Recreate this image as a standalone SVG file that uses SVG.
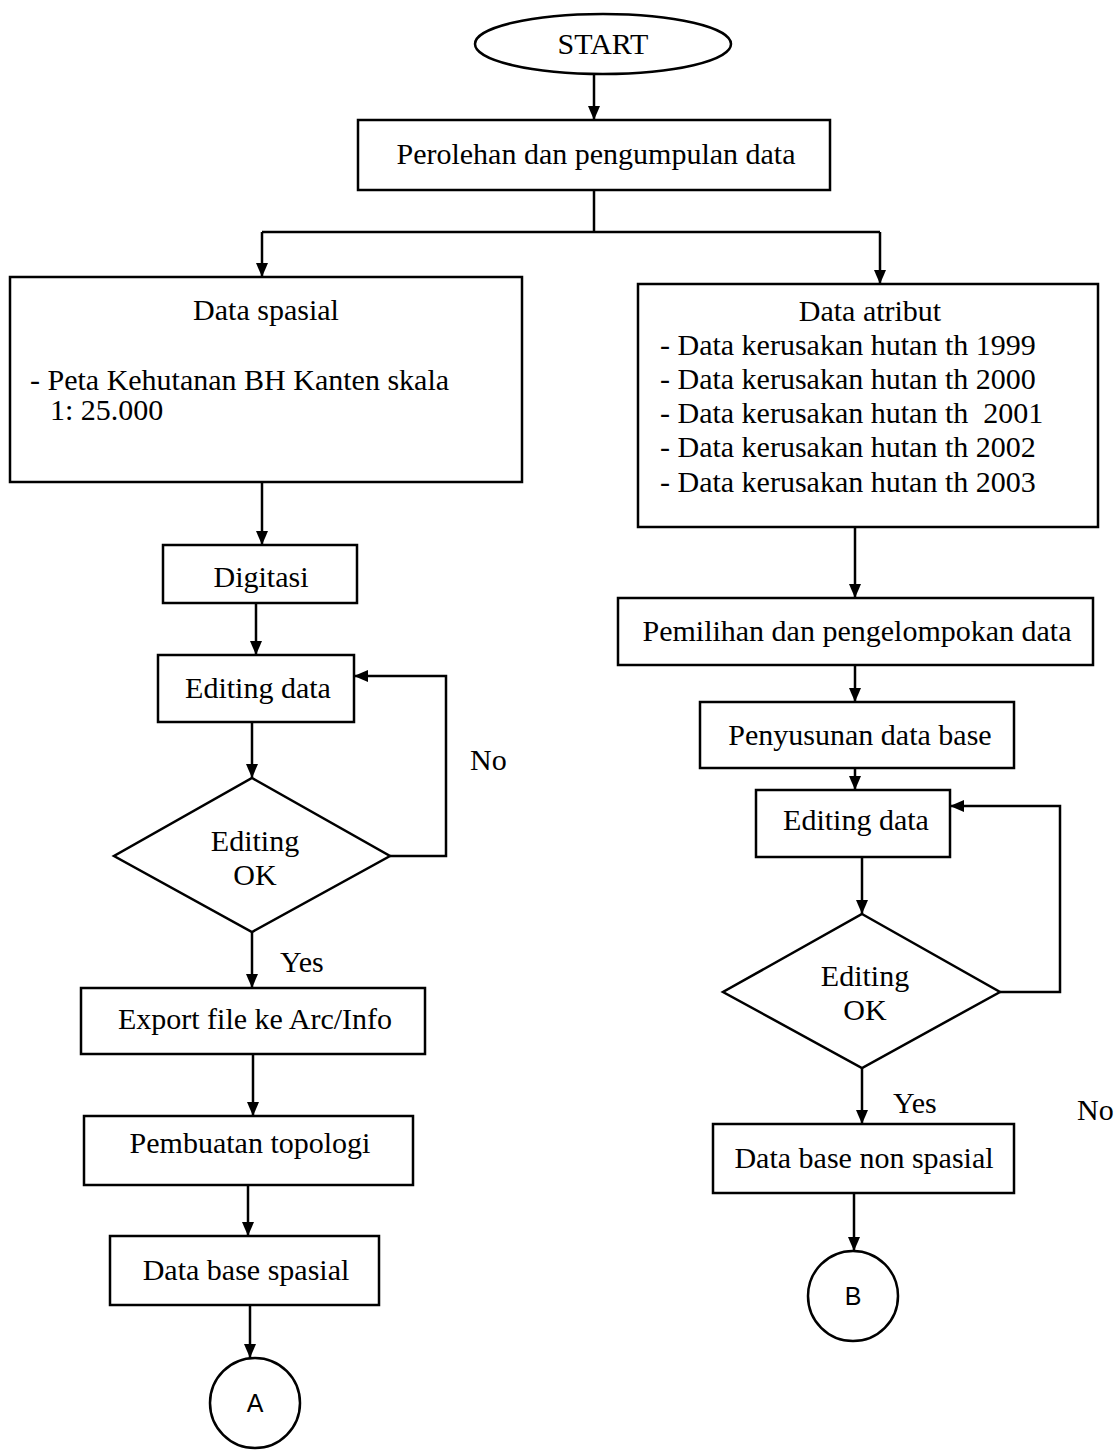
<svg xmlns="http://www.w3.org/2000/svg" width="1118" height="1452" viewBox="0 0 1118 1452">
<style>
.s{fill:#fff;stroke:#000;stroke-width:2.5}
.t{font-family:"Liberation Serif","Times New Roman",serif;font-size:30px;fill:#000}
.c{text-anchor:middle}
.a{font-family:"Liberation Sans",Arial,sans-serif;font-size:25px;fill:#000;text-anchor:middle}
.l{fill:none;stroke:#000;stroke-width:2.5}
</style>
<defs>
<marker id="ah" viewBox="0 0 14 12" refX="14" refY="6" markerWidth="14" markerHeight="12" markerUnits="userSpaceOnUse" orient="auto">
<path d="M0,0 L14,6 L0,12 z" fill="#000"/>
</marker>
</defs>
<rect width="1118" height="1452" fill="#fff"/>
<g id="connectors">
<path class="l" d="M594,74 V120" marker-end="url(#ah)"/>
<path class="l" d="M594,190 V232"/>
<path class="l" d="M262,232 H880"/>
<path class="l" d="M262,232 V277" marker-end="url(#ah)"/>
<path class="l" d="M880,232 V284" marker-end="url(#ah)"/>
<path class="l" d="M262,482 V545" marker-end="url(#ah)"/>
<path class="l" d="M256,603 V655" marker-end="url(#ah)"/>
<path class="l" d="M252,722 V778" marker-end="url(#ah)"/>
<path class="l" d="M390,856 H446 V676 H354" marker-end="url(#ah)"/>
<path class="l" d="M252,932 V988" marker-end="url(#ah)"/>
<path class="l" d="M253,1054 V1116" marker-end="url(#ah)"/>
<path class="l" d="M248,1185 V1236" marker-end="url(#ah)"/>
<path class="l" d="M250,1305 V1358" marker-end="url(#ah)"/>
<path class="l" d="M855,527 V598" marker-end="url(#ah)"/>
<path class="l" d="M855,665 V702" marker-end="url(#ah)"/>
<path class="l" d="M855,768 V790" marker-end="url(#ah)"/>
<path class="l" d="M862,857 V914" marker-end="url(#ah)"/>
<path class="l" d="M1000,992 H1060 V806 H950" marker-end="url(#ah)"/>
<path class="l" d="M862,1068 V1124" marker-end="url(#ah)"/>
<path class="l" d="M854,1193 V1251" marker-end="url(#ah)"/>
</g>
<g id="start"><ellipse class="s" cx="603" cy="44" rx="128" ry="30"/><text class="t c" x="603" y="54">START</text></g>
<g id="perolehan"><rect class="s" x="358" y="120" width="472" height="70"/><text class="t c" x="596" y="164">Perolehan dan pengumpulan data</text></g>
<g id="spasial"><rect class="s" x="10" y="277" width="512" height="205"/><text class="t c" x="266" y="320">Data spasial</text><text class="t" x="30" y="390">- Peta Kehutanan BH Kanten skala</text><text class="t" x="50" y="420">1: 25.000</text></g>
<g id="atribut"><rect class="s" x="638" y="284" width="460" height="243"/><text class="t c" x="870" y="321">Data atribut</text>
<text class="t" x="660" y="355">- Data kerusakan hutan th 1999</text>
<text class="t" x="660" y="389">- Data kerusakan hutan th 2000</text>
<text class="t" x="660" y="423" xml:space="preserve">- Data kerusakan hutan th  2001</text>
<text class="t" x="660" y="457">- Data kerusakan hutan th 2002</text>
<text class="t" x="660" y="492">- Data kerusakan hutan th 2003</text></g>
<g id="digitasi"><rect class="s" x="163" y="545" width="194" height="58"/><text class="t c" x="261" y="587">Digitasi</text></g>
<g id="editL"><rect class="s" x="158" y="655" width="196" height="67"/><text class="t c" x="258" y="698">Editing data</text></g>
<g id="decL"><polygon class="s" points="252,778 390,856 252,932 114,856"/><text class="t c" x="255" y="851">Editing</text><text class="t c" x="255" y="885">OK</text></g>
<g id="labelsL"><text class="t" x="470" y="770">No</text><text class="t" x="280" y="972">Yes</text></g>
<g id="export"><rect class="s" x="81" y="988" width="344" height="66"/><text class="t c" x="255" y="1029">Export file ke Arc/Info</text></g>
<g id="topologi"><rect class="s" x="84" y="1116" width="329" height="69"/><text class="t c" x="250" y="1153">Pembuatan topologi</text></g>
<g id="dbspasial"><rect class="s" x="110" y="1236" width="269" height="69"/><text class="t c" x="246" y="1280">Data base spasial</text></g>
<g id="A"><circle class="s" cx="255" cy="1403" r="45"/><text class="a" x="255" y="1412">A</text></g>
<g id="pemilihan"><rect class="s" x="618" y="598" width="475" height="67"/><text class="t c" x="857" y="641">Pemilihan dan pengelompokan data</text></g>
<g id="penyusunan"><rect class="s" x="700" y="702" width="314" height="66"/><text class="t c" x="860" y="745">Penyusunan data base</text></g>
<g id="editR"><rect class="s" x="756" y="790" width="194" height="67"/><text class="t c" x="856" y="830">Editing data</text></g>
<g id="decR"><polygon class="s" points="862,914 1000,992 862,1068 723,992"/><text class="t c" x="865" y="986">Editing</text><text class="t c" x="865" y="1020">OK</text></g>
<g id="labelsR"><text class="t" x="893" y="1113">Yes</text><text class="t" x="1077" y="1120">No</text></g>
<g id="dbnon"><rect class="s" x="713" y="1124" width="301" height="69"/><text class="t c" x="864" y="1168">Data base non spasial</text></g>
<g id="B"><circle class="s" cx="853" cy="1296" r="45"/><text class="a" x="853" y="1305">B</text></g>
</svg>
